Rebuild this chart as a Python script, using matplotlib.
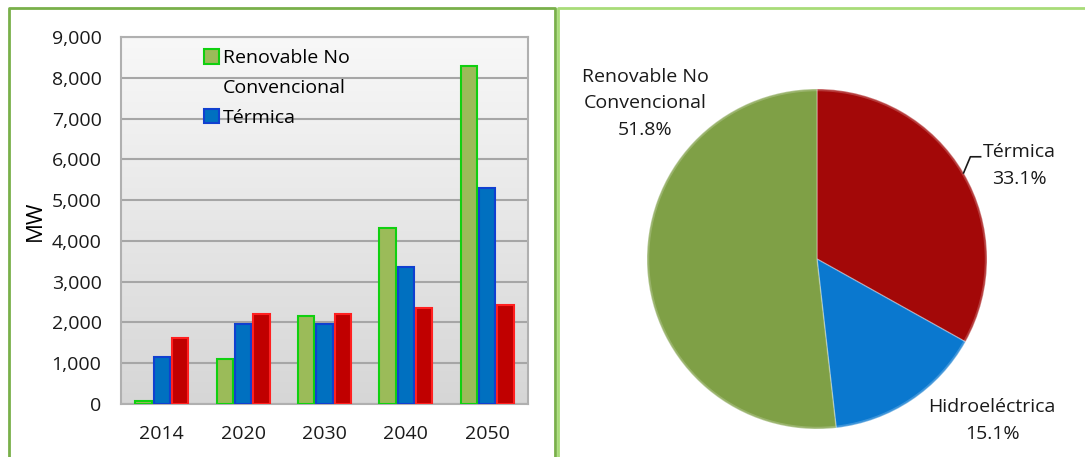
import numpy as np
import matplotlib
matplotlib.use("Agg")
import matplotlib.pyplot as plt
from matplotlib.lines import Line2D
from matplotlib.patches import Patch

plt.rcParams['font.family'] = ['Open Sans', 'DejaVu Sans']

# data
years = ['2014', '2020', '2030', '2040', '2050']
renovable = [65, 1110, 2150, 4310, 8300]
termica = [1155, 1950, 1950, 3350, 5300]
hidro = [1630, 2210, 2210, 2360, 2420]

pie_labels = ['Térmica', 'Hidroeléctrica', 'Renovable No\nConvencional']
pie_share = [33.1, 15.1, 51.8]

W, H = 1085, 457
fig = plt.figure(figsize=(W / 100, H / 100), dpi=100)

def fx(px):
    return px / W

def fy(py):
    return 1 - py / H

# panel borders
fig.add_artist(Line2D([fx(8.5), fx(8.5), fx(554.5), fx(554.5)],
                      [fy(H + 5), fy(8), fy(8), fy(H + 5)], color='#79b04a', lw=2))
fig.add_artist(Line2D([fx(557.5), fx(557.5), fx(W + 5)],
                      [fy(H + 5), fy(8), fy(8)], color='#a8dc78', lw=2))

# ---- bar chart ----
ax = fig.add_axes([fx(121), fy(404), fx(528) - fx(121), fy(37) - fy(404)])
x = np.arange(len(years))
bw = 0.2
off = 0.225

grad = np.linspace(0, 1, 256).reshape(-1, 1)
ax.imshow(grad, extent=[-0.5, 4.5, 0, 9000], aspect='auto', origin='upper',
          cmap=matplotlib.colors.LinearSegmentedColormap.from_list('bg', ['#f8f8f8', '#d6d6d6']),
          zorder=0)

b1 = ax.bar(x - off, renovable, bw, color='#9bbb59', edgecolor='#10d010', lw=1.5, zorder=3)
b2 = ax.bar(x, termica, bw, color='#0070c0', edgecolor='#1040d0', lw=1.5, zorder=3)
b3 = ax.bar(x + off, hidro, bw, color='#c00000', edgecolor='#ff2020', lw=1.5, zorder=3)

ax.set_xlim(-0.5, 4.5)
ax.set_ylim(0, 9000)
ax.set_yticks(np.arange(0, 9001, 1000))
ax.set_yticklabels([f'{v:,}' for v in range(0, 9001, 1000)])
ax.set_xticks(x)
ax.set_xticklabels(years)
ax.tick_params(length=0, labelsize=14, colors='#1a1a1a')
ax.tick_params(axis='y', pad=14)
ax.tick_params(axis='x', pad=15)
ax.grid(axis='y', color='#a6a6a6', lw=1.5, zorder=1)
ax.set_axisbelow(True)
for s in ax.spines.values():
    s.set_color('#b0b0b0')
    s.set_linewidth(1.5)
ax.set_ylabel('MW', fontsize=16, labelpad=4)

# legend: the long label wraps onto a second line with no marker
blank = Patch(facecolor='none', edgecolor='none')
ax.legend([b1, blank, b2], ['Renovable No', 'Convencional', 'Térmica'],
          loc='upper left', bbox_to_anchor=(0.185, 0.988),
          frameon=False, fontsize=14, handlelength=0.75, handleheight=0.75,
          handletextpad=0.2, labelspacing=0.6, borderaxespad=0)

# ---- pie chart ----
R = 170
cx, cy = 817, 259
pax = fig.add_axes([fx(cx - R), fy(cy + R), fx(2 * R), 2 * R / H])
wedges, _ = pax.pie(pie_share, colors=['#a30808', '#0a78cf', '#7fa046'], startangle=90,
                    counterclock=False, wedgeprops=dict(edgecolor=(1, 1, 1, 0.3), lw=1))
pax.set_xlim(-1, 1)
pax.set_ylim(-1, 1)
pax.set_aspect('equal')
pax.add_patch(plt.Circle((0, 0), 0.995, fill=False, ec=(1, 1, 1, 0.2), lw=2))

# labels
lbl_kw = dict(fontsize=14, color='#1a1a1a', ha='center', va='center', linespacing=1.62)
pax.text(-1.01, 0.915, f'{pie_labels[2]}\n{pie_share[2]:.1f}%', **lbl_kw)
pax.text(1.19, 0.55, f'{pie_labels[0]}\n{pie_share[0]:.1f}%', **lbl_kw)
pax.text(1.03, -0.95, f'{pie_labels[1]}\n{pie_share[1]:.1f}%', **lbl_kw)

# leader line for Térmica from wedge mid angle
w = wedges[0]
mid = np.deg2rad((w.theta1 + w.theta2) / 2)
x0, y0 = np.cos(mid), np.sin(mid)
pax.plot([x0, x0 + 0.04, x0 + 0.1], [y0, y0 + 0.095, y0 + 0.095], color='#1a1a1a', lw=1.2,
         clip_on=False)

fig.savefig('out.png', dpi=100)
